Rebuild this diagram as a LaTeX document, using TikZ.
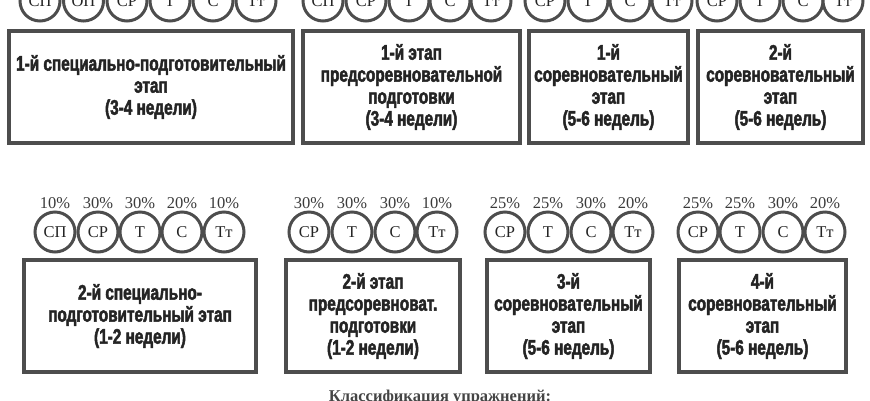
\documentclass[tikz,border=0pt]{standalone}
\usepackage{fontspec}
\setmainfont{Liberation Serif}
\newfontfamily\boxfont[FakeStretch=0.73,FakeBold=2.2]{Liberation Sans}
\definecolor{edge}{HTML}{4D4D4D}
\definecolor{ink}{HTML}{242424}
\begin{document}
\begin{tikzpicture}[x=1pt,y=-1pt,
  stage/.style={draw=edge, line width=4pt, fill=white, inner sep=0pt, align=center,
    font=\boxfont\bfseries\fontsize{21}{22}\selectfont, text=ink, minimum height=112pt},
  ex/.style={circle, draw=edge, line width=3pt, minimum size=40pt, inner sep=0pt,
    font=\fontsize{16.5}{16.5}\selectfont, text=ink, fill=white},
  pct/.style={font=\fontsize{16.5}{16.5}\selectfont, text=ink!90, inner sep=0pt}]
\useasboundingbox (0,0) rectangle (870,400);

% top row circles
\foreach \x/\t/\n in {40/СП/a1,83.5/ОП/a2,127/СР/a3,170/Т/a4,213/С/a5,256/Тт/a6,
  323/СП/b1,366/СР/b2,409/Т/b3,450/С/b4,491/Тт/b5,
  545/СР/c1,588/Т/c2,630/С/c3,672/Тт/c4,
  717/СР/d1,760/Т/d2,803/С/d3,843/Тт/d4}
  \node[ex] (t\n) at (\x,1) {\t};

% top row stages
\node[stage, minimum width=284pt] (s1) at (151,87) {1-й специально-подготовительный\\этап\\(3-4 недели)};
\node[stage, minimum width=217pt] (s2) at (411.5,87) {1-й этап\\предсоревновательной\\подготовки\\(3-4 недели)};
\node[stage, minimum width=159pt] (s3) at (608.5,87) {1-й\\соревновательный\\этап\\(5-6 недель)};
\node[stage, minimum width=165pt] (s4) at (780.5,87) {2-й\\соревновательный\\этап\\(5-6 недель)};

% bottom row circles with percentages
\foreach \x/\t/\p/\n in {55/СП/10/a1,98/СР/30/a2,140/Т/30/a3,182/С/20/a4,224/Тт/10/a5,
  309/СР/30/b1,352/Т/30/b2,395/С/30/b3,437/Тт/10/b4,
  505/СР/25/c1,548/Т/25/c2,591/С/30/c3,633/Тт/20/c4,
  698/СР/25/d1,740/Т/25/d2,783/С/30/d3,825/Тт/20/d4}
{
  \node[ex] (u\n) at (\x,232) {\t};
  \node[pct] (p\n) at (\x,203) {\p\%};
}

% bottom row stages
\node[stage, minimum width=232pt] (r1) at (140,316) {2-й специально-\\подготовительный этап\\(1-2 недели)};
\node[stage, minimum width=174pt] (r2) at (373,316) {2-й этап\\предсоревноват.\\подготовки\\(1-2 недели)};
\node[stage, minimum width=163pt] (r3) at (568.5,316) {3-й\\соревновательный\\этап\\(5-6 недель)};
\node[stage, minimum width=167pt] (r4) at (762.5,316) {4-й\\соревновательный\\этап\\(5-6 недель)};

\node[font=\bfseries\fontsize{16.5}{16.5}\selectfont, text=ink!85] (cap) at (440,398) {Классификация упражнений:};
\end{tikzpicture}
\end{document}
